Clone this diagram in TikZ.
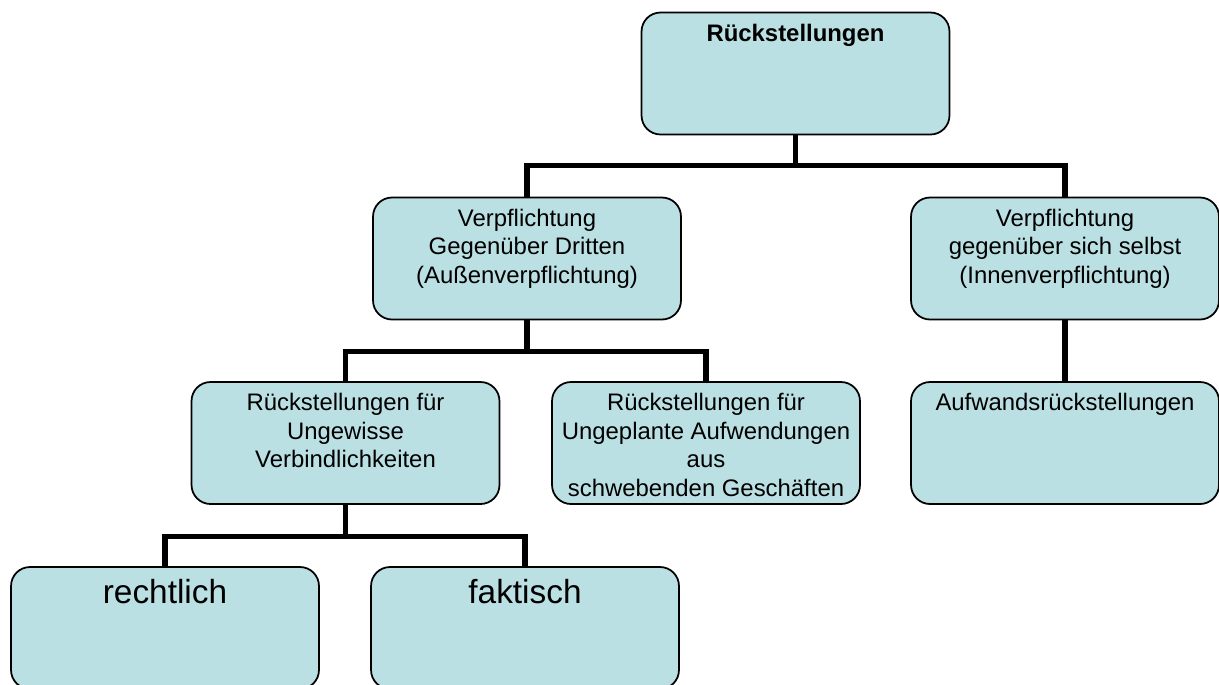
\documentclass[tikz,border=0pt]{standalone}
\usepackage{fontspec}
\setmainfont{Liberation Sans}
\usetikzlibrary{positioning}
\definecolor{boxfill}{HTML}{BBE0E3}

\begin{document}
\begin{tikzpicture}[
  x=0.02cm, y=-0.02cm,
  rbox/.style={draw=black, line width=1pt, fill=boxfill, rounded corners=0.38cm,
               minimum width=6.16cm, minimum height=2.44cm, inner sep=0pt},
  boxtxt/.style={align=center, inner sep=0pt, font=\fontsize{13.6}{16.2}\selectfont},
  bigtxt/.style={inner sep=0pt, font=\fontsize{19}{22.8}\selectfont},
  conn/.style={line width=2.9pt, black}
]
\useasboundingbox (0,0) rectangle (1219,684);
\clip (0,0) rectangle (1219,684);

% Boxes, row by row
\node[rbox] (rst)       at (795.5, 73.5) {};
\node[rbox] (aussen)    at (527, 258.5) {};
\node[rbox] (innen)     at (1065, 258.5) {};
\node[rbox] (ungewiss)  at (345.5, 443) {};
\node[rbox] (ungeplant) at (706, 443) {};
\node[rbox] (aufwand)   at (1065, 443) {};
\node[rbox] (rechtl)    at (165, 628) {};
\node[rbox] (fakt)      at (525, 628) {};

% Texts at the top of each box
\node[boxtxt, below=0.24cm of rst.north] (rstT) {\textbf{Rückstellungen}};
\node[boxtxt, below=0.24cm of aussen.north] (aussenT)
  {Verpflichtung\\Gegenüber Dritten\\(Außenverpflichtung)};
\node[boxtxt, below=0.24cm of innen.north] (innenT)
  {Verpflichtung\\gegenüber sich selbst\\(Innenverpflichtung)};
\node[boxtxt, below=0.24cm of ungewiss.north] (ungewissT)
  {Rückstellungen für\\Ungewisse\\Verbindlichkeiten};
\node[boxtxt, below=0.24cm of ungeplant.north] (ungeplantT)
  {Rückstellungen für\\Ungeplante Aufwendungen\\aus\\schwebenden Geschäften};
\node[boxtxt, below=0.24cm of aufwand.north] (aufwandT) {Aufwandsrückstellungen};
\node[bigtxt, below=0.26cm of rechtl.north] (rechtlT) {rechtlich};
\node[bigtxt, below=0.26cm of fakt.north] (faktT) {faktisch};

% Connectors
\draw[conn] (rst.south) -- ++(0,30) -| (aussen.north);
\draw[conn] (rst.south) -- ++(0,30) -| (innen.north);
\draw[conn] (aussen.south) -- ++(0,31) -| (ungewiss.north);
\draw[conn] (aussen.south) -- ++(0,31) -| (ungeplant.north);
\draw[conn] (innen.south) -- (aufwand.north);
\draw[conn] (ungewiss.south) -- ++(0,32) -| (rechtl.north);
\draw[conn] (ungewiss.south) -- ++(0,32) -| (fakt.north);

\end{tikzpicture}
\end{document}
